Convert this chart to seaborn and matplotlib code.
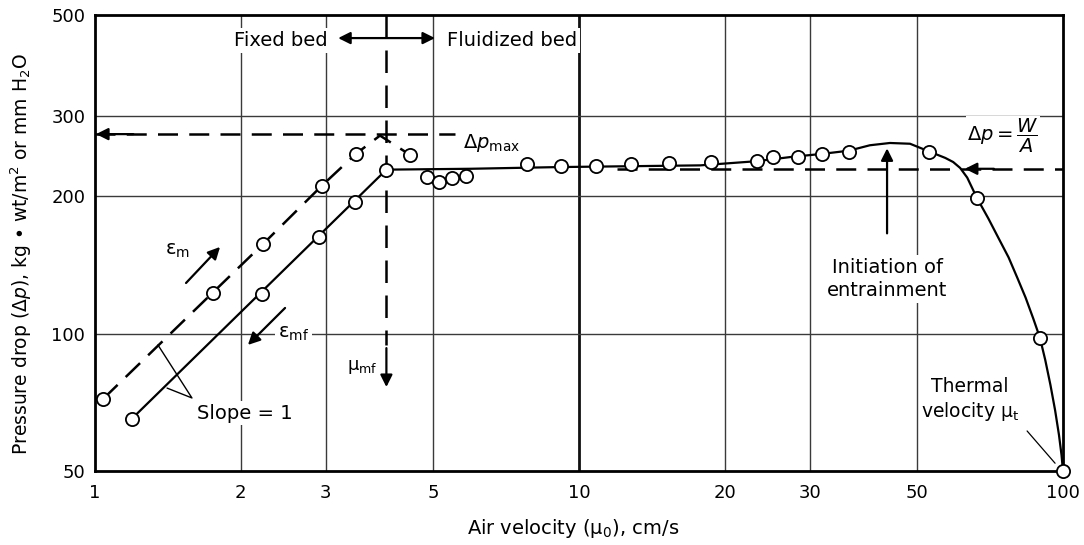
import matplotlib
matplotlib.use("Agg")
import matplotlib.pyplot as plt
from matplotlib.ticker import NullLocator
import pandas as pd
import seaborn as sns

# ---------------- data ----------------
# decreasing velocity (epsilon_mf), fixed-bed part
mf_u = [1.19, 2.21, 2.90, 3.45, 4.0]
mf_dp = [65, 122, 163, 194, 229]
# fluidized region points
fl_u = [4.85, 5.14, 5.47, 5.84, 7.81, 9.18, 10.84, 12.81, 15.35, 18.74,
        23.3, 25.2, 28.4, 31.8, 36.1, 52.9, 66.4, 89.6, 100]
fl_dp = [221, 215, 220, 222, 236, 233, 233, 236, 237, 238,
         239, 244, 244, 248, 250, 250, 198.5, 98, 50]
# solid curve through the decreasing-velocity data
curve_u = [1.19, 4.0, 5.95, 9.1, 17.8, 23.3, 27.3, 31.8, 36.1, 39.9, 43.9,
           48.3, 52.9, 57.1, 59.3, 61.3, 63.4, 66.4,
           70.1, 73.6, 77.2, 80.5, 83.7, 86.8, 89.6,
           91.9, 94.2, 96.3, 98.1, 99.3, 100]
curve_dp = [65, 229, 230, 232, 234, 239, 244, 248, 252, 259, 262,
            261, 251, 243, 238, 231, 220, 198.5,
            179, 162, 147, 132.5, 120, 108, 98,
            87.6, 77.2, 68, 60, 54.2, 50]
# increasing velocity (epsilon_m), dashed
m_u = [1.04, 1.75, 2.22, 2.94, 3.46, 4.47]
m_dp = [72, 123, 157, 211, 248, 247]
m_path_u = [1.04, 1.75, 2.22, 2.94, 3.46, 3.88, 4.47]
m_path_dp = [72, 123, 157, 211, 248, 272, 247]

dp_max = 274
dp_wa = 230
u_mf = 4.0

x_ticks = [1, 2, 3, 5, 10, 20, 30, 50, 100]
y_ticks = [50, 100, 200, 300, 500]
x_grid = [2, 3, 5, 20, 30, 50]
y_grid = [100, 200, 300]

# ---------------- figure ----------------
sns.set_theme(style="white")
plt.rcParams["font.family"] = ["DejaVu Sans"]
plt.rcParams["mathtext.fontset"] = "dejavusans"
plt.rcParams["text.color"] = "black"
plt.rcParams["axes.labelcolor"] = "black"
plt.rcParams["xtick.color"] = "black"
plt.rcParams["ytick.color"] = "black"

fig, ax = plt.subplots(figsize=(10.84, 5.45), dpi=100)
fig.subplots_adjust(left=95 / 1084, right=1063 / 1084,
                    bottom=1 - 471 / 545, top=1 - 15 / 545)
ax.set_xscale("log")
ax.set_yscale("log")
ax.set_xlim(1, 100)
ax.set_ylim(50, 500)

# grid
for g in x_grid:
    ax.axvline(g, color="#3a3a3a", lw=1.0, zorder=0)
ax.axvline(10, color="#111111", lw=2.0, zorder=0)
for g in y_grid:
    ax.axhline(g, color="#3a3a3a", lw=1.0, zorder=0)

dash = (0, (8, 4.5))
lw_main = 1.6

# solid curve
sns.lineplot(data=pd.DataFrame({"u": curve_u, "dp": curve_dp}), x="u", y="dp",
             ax=ax, color="black", lw=lw_main, sort=False, estimator=None, zorder=3)
# dashed epsilon_m curve
sns.lineplot(data=pd.DataFrame({"u": m_path_u, "dp": m_path_dp}), x="u", y="dp",
             ax=ax, color="black", lw=1.8, linestyle=dash, sort=False,
             estimator=None, zorder=3)

# horizontal dashed lines
sns.lineplot(x=[1.0, 5.54], y=[dp_max, dp_max], ax=ax, color="black", lw=1.8,
             linestyle=dash, estimator=None, zorder=2)
sns.lineplot(x=[12.0, 100.0], y=[dp_wa, dp_wa], ax=ax, color="black", lw=1.8,
             linestyle=dash, estimator=None, zorder=2)
# vertical dashed line at u_mf
sns.lineplot(x=[u_mf, u_mf], y=[500, 94.5], ax=ax, color="black", lw=1.8,
             linestyle=(0, (9, 5)), estimator=None, sort=False, zorder=2)

# markers
for xs, ys in [(mf_u, mf_dp), (fl_u, fl_dp), (m_u, m_dp)]:
    sns.scatterplot(x=xs, y=ys, ax=ax, s=90, color="white", edgecolor="black",
                    linewidth=1.3, zorder=6, clip_on=False)

ap = dict(arrowstyle="-|>", color="black", lw=1.6, mutation_scale=18,
          shrinkA=0, shrinkB=0)
box = dict(facecolor="white", edgecolor="none", pad=2)
fs = 14

# Fixed bed / Fluidized bed
ax.annotate("", xy=(3.18, 445), xytext=(5.04, 445),
            arrowprops=dict(arrowstyle="<|-|>", color="black", lw=1.6,
                            mutation_scale=18, shrinkA=0, shrinkB=0), zorder=4)
ax.text(3.03, 440, "Fixed bed", ha="right", va="center", fontsize=fs, bbox=box, zorder=4)
ax.text(5.34, 440, "Fluidized bed", ha="left", va="center", fontsize=fs, bbox=box, zorder=4)

# delta p max
ax.annotate("", xy=(1.005, dp_max), xytext=(1.2, dp_max), arrowprops=ap, zorder=4)
ax.text(5.76, 262, r"$\Delta p_{\mathrm{max}}$", ha="left", va="center",
        fontsize=fs, bbox=box, zorder=4)

# mu_mf
ax.annotate("", xy=(u_mf, 76.4), xytext=(u_mf, 93), arrowprops=ap, zorder=4)
ax.text(3.83, 84.5, r"μ$_{\mathrm{mf}}$", ha="right", va="center", fontsize=fs - 1, zorder=4)

# epsilon arrows
ax.annotate("", xy=(1.813, 155), xytext=(1.542, 129.2), arrowprops=ap, zorder=4)
ax.text(1.395, 152, r"ε$_{\mathrm{m}}$", ha="left", va="center", fontsize=fs, zorder=4)
ax.annotate("", xy=(2.07, 94.5), xytext=(2.47, 113.9), arrowprops=ap, zorder=4)
ax.text(2.388, 100, r"ε$_{\mathrm{mf}}$", ha="left", va="center", fontsize=fs,
        bbox=box, zorder=4)

# slope = 1 callout
slope_u = [1.349, 1.586, 1.409]
slope_dp = [94.5, 72.3, 76.0]
ax.plot(slope_u, slope_dp, color="black", lw=1.0, zorder=4)
ax.text(1.625, 67, "Slope = 1", ha="left", va="center", fontsize=fs, bbox=box, zorder=4)

# delta p = W/A
ax.annotate("", xy=(62.7, dp_wa), xytext=(72, dp_wa), arrowprops=ap, zorder=4)
ax.text(75.2, 271, r"$\Delta p = \dfrac{W}{A}$", ha="center", va="center",
        fontsize=fs, bbox=dict(facecolor="white", edgecolor="none", pad=1), zorder=4)

# initiation of entrainment
ax.annotate("", xy=(43.3, 255), xytext=(43.3, 166), arrowprops=ap, zorder=4)
ax.text(43.3, 131.8, "Initiation of\nentrainment", ha="center", va="center",
        fontsize=fs, bbox=box, linespacing=1.25, zorder=4)

# thermal velocity
ax.plot([84.3, 96.3], [61.2, 52.0], color="black", lw=0.9, zorder=4)
ax.text(64.3, 71.6, "Thermal\nvelocity μ$_{\\mathrm{t}}$", ha="center", va="center",
        fontsize=fs - 0.5, linespacing=1.25, zorder=4)

# axes styling
ax.set_xticks(x_ticks)
ax.set_xticklabels([str(v) for v in x_ticks])
ax.set_yticks(y_ticks)
ax.set_yticklabels([str(v) for v in y_ticks])
ax.xaxis.set_minor_locator(NullLocator())
ax.yaxis.set_minor_locator(NullLocator())
ax.tick_params(axis="both", length=0, labelsize=13, colors="black")
ax.tick_params(axis="x", pad=9)
ax.tick_params(axis="y", pad=7)
ax.grid(False)
for sp in ax.spines.values():
    sp.set_color("black")
    sp.set_linewidth(2.0)
ax.set_xlabel("")
ax.set_ylabel("")

fig.text(573 / 1084, 1 - 528 / 545, "Air velocity (μ$_0$), cm/s", ha="center",
         va="center", fontsize=14, color="black")
fig.text(21 / 1084, 1 - 254 / 545,
         "Pressure drop (Δ$p$), kg • wt/m$^2$ or mm H$_2$O",
         rotation=90, ha="center", va="center", fontsize=13.5, color="black")

fig.savefig("out.png", dpi=100, facecolor="white")
